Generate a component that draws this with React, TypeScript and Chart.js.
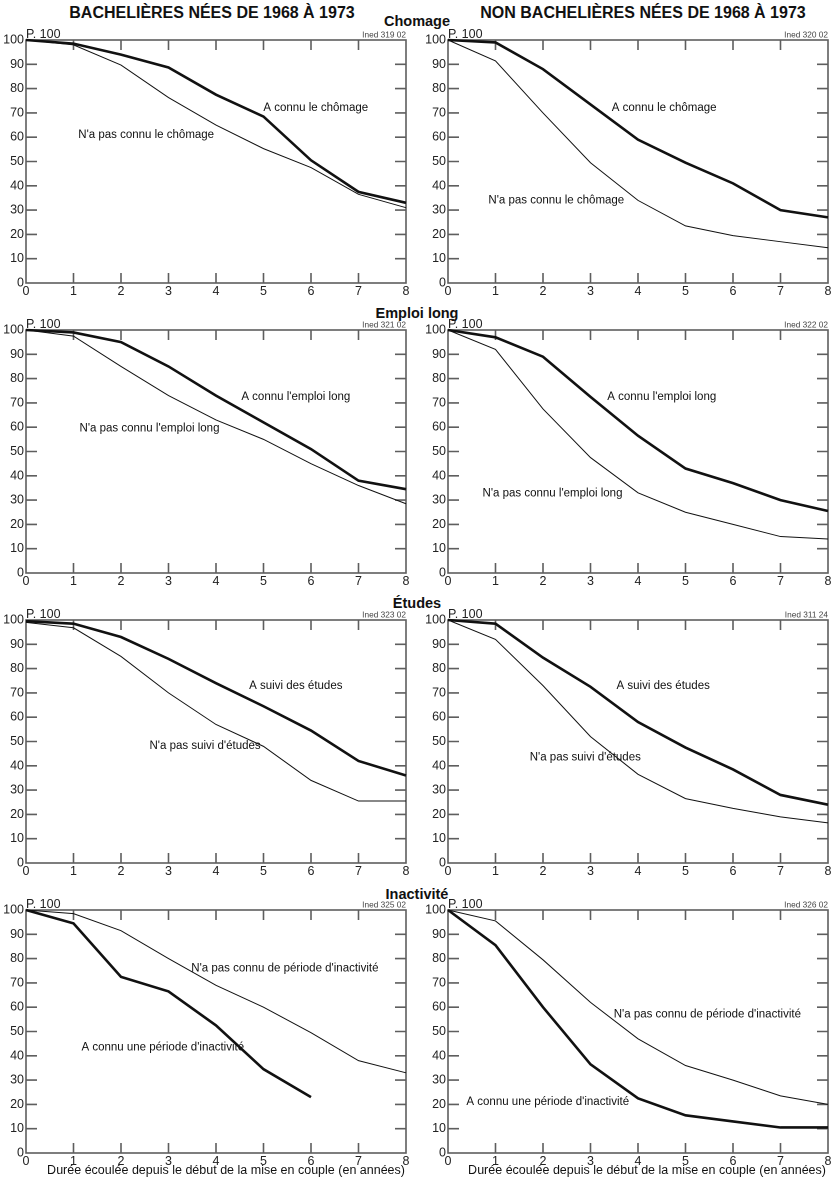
import React, { useEffect, useRef } from "react";
import { Chart, registerables } from "chart.js";

Chart.register(...registerables);

const FONT = "'Liberation Sans', Arial, Helvetica, sans-serif";

// Years since start of union
const years = [0, 1, 2, 3, 4, 5, 6, 7, 8];

// Chômage
const bachChomageAvec = [100, 98.5, 94, 88.7, 77.5, 68.5, 50.5, 37.5, 33];
const bachChomageSans = [100, 98, 89.7, 76.3, 65, 55.3, 47.5, 36.5, 31];
const nonBachChomageAvec = [100, 99, 88, 73.5, 59, 49.5, 41, 30, 27];
const nonBachChomageSans = [100, 91.4, 70, 49.5, 34, 23.5, 19.5, 17, 14.5];
// Emploi long
const bachEmploiAvec = [100, 99, 95, 85, 73, 62, 51, 38, 34.5];
const bachEmploiSans = [100, 97.5, 85, 73, 63, 55, 45, 36, 28.5];
const nonBachEmploiAvec = [100, 97, 89, 72.5, 56.5, 43, 37, 30, 25.5];
const nonBachEmploiSans = [100, 92, 67.5, 47.5, 33, 25, 20, 15, 14];
// Études
const bachEtudesAvec = [99.5, 98.5, 93, 84, 74, 64.5, 54.5, 42, 36];
const bachEtudesSans = [99, 96.8, 85, 70, 57, 48, 34, 25.5, 25.5];
const nonBachEtudesAvec = [100, 98.5, 84.5, 72.5, 58, 47.5, 38.5, 28, 24];
const nonBachEtudesSans = [100, 92, 73, 52, 36.5, 26.5, 22.5, 19, 16.5];
// Inactivité
const bachInactAvec = [100, 94.5, 72.5, 66.5, 52.5, 34.5, 23];
const bachInactSans = [100, 98.5, 91.5, 80, 69, 60, 49.5, 38, 33];
const nonBachInactAvec = [100, 85.5, 60, 36.5, 22.5, 15.5, 13, 10.5, 10.5];
const nonBachInactSans = [100, 95.5, 79.5, 62, 47, 36, 30, 23.5, 20];

const columnTitles = ["BACHELIÈRES NÉES DE 1968 À 1973", "NON BACHELIÈRES NÉES DE 1968 À 1973"];
const rowTitles = ["Chomage", "Emploi long", "Études", "Inactivité"];
const xAxisTitle = "Durée écoulée depuis le début de la mise en couple (en années)";

type Panel = {
  thick: number[];
  thin: number[];
  thickLabel: string;
  thinLabel: string;
  thickAt: [number, number];
  thinAt: [number, number];
  ined: string;
};

const panels: Panel[] = [
  { thick: bachChomageAvec, thin: bachChomageSans, thickLabel: "A connu le chômage", thinLabel: "N'a pas connu le chômage", thickAt: [6.1, 72], thinAt: [2.53, 61], ined: "Ined 319 02" },
  { thick: nonBachChomageAvec, thin: nonBachChomageSans, thickLabel: "A connu le chômage", thinLabel: "N'a pas connu le chômage", thickAt: [4.55, 72], thinAt: [2.28, 34], ined: "Ined 320 02" },
  { thick: bachEmploiAvec, thin: bachEmploiSans, thickLabel: "A connu l'emploi long", thinLabel: "N'a pas connu l'emploi long", thickAt: [5.68, 72.5], thinAt: [2.6, 59.5], ined: "Ined 321 02" },
  { thick: nonBachEmploiAvec, thin: nonBachEmploiSans, thickLabel: "A connu l'emploi long", thinLabel: "N'a pas connu l'emploi long", thickAt: [4.5, 72.5], thinAt: [2.2, 32.7], ined: "Ined 322 02" },
  { thick: bachEtudesAvec, thin: bachEtudesSans, thickLabel: "A suivi des études", thinLabel: "N'a pas suivi d'études", thickAt: [5.68, 73], thinAt: [3.77, 48.3], ined: "Ined 323 02" },
  { thick: nonBachEtudesAvec, thin: nonBachEtudesSans, thickLabel: "A suivi des études", thinLabel: "N'a pas suivi d'études", thickAt: [4.53, 73], thinAt: [2.89, 43.4], ined: "Ined 311 24" },
  { thick: bachInactAvec, thin: bachInactSans, thickLabel: "A connu une période d'inactivité", thinLabel: "N'a pas connu de période d'inactivité", thickAt: [2.88, 43.5], thinAt: [5.45, 76], ined: "Ined 325 02" },
  { thick: nonBachInactAvec, thin: nonBachInactSans, thickLabel: "A connu une période d'inactivité", thinLabel: "N'a pas connu de période d'inactivité", thickAt: [2.1, 21], thinAt: [5.46, 57], ined: "Ined 326 02" },
];

const CANVAS_W = 414;
const CANVAS_H = 273;
const PAD_TOP = 12;
const FRAME = "#5e5e5e";

function toPoints(values: number[]) {
  return values.map((v, i) => ({ x: years[i], y: v }));
}

function PanelChart({ panel, left, top }: { panel: Panel; left: number; top: number }) {
  const ref = useRef<HTMLCanvasElement | null>(null);
  useEffect(() => {
    if (!ref.current) return;
    const decor = {
      id: "decor",
      beforeDatasetsDraw(chart: any) {
        const { ctx, chartArea: a, scales } = chart;
        const xs = scales.x;
        const ys = scales.y;
        ctx.save();
        ctx.strokeStyle = FRAME;
        ctx.lineWidth = 1.6;
        ctx.beginPath();
        xs.ticks.forEach((t: any) => {
          if (t.value <= 0 || t.value >= 8) return;
          const px = xs.getPixelForValue(t.value);
          ctx.moveTo(px, a.top);
          ctx.lineTo(px, a.top + 10);
          ctx.moveTo(px, a.bottom);
          ctx.lineTo(px, a.bottom - 10);
        });
        ys.ticks.forEach((t: any) => {
          if (t.value <= 0 || t.value >= 100) return;
          const py = ys.getPixelForValue(t.value);
          ctx.moveTo(a.left, py);
          ctx.lineTo(a.left + 11, py);
          ctx.moveTo(a.right, py);
          ctx.lineTo(a.right - 11, py);
        });
        ctx.stroke();
        ctx.strokeRect(a.left, a.top, a.right - a.left, a.bottom - a.top);
        ctx.restore();
      },
      afterDatasetsDraw(chart: any) {
        const { ctx, chartArea: a, scales } = chart;
        const xs = scales.x;
        const ys = scales.y;
        ctx.save();
        ctx.fillStyle = "#111";
        ctx.font = `11.5px ${FONT}`;
        ctx.textAlign = "center";
        ctx.textBaseline = "middle";
        ctx.fillText(panel.thickLabel, xs.getPixelForValue(panel.thickAt[0]), ys.getPixelForValue(panel.thickAt[1]));
        ctx.fillText(panel.thinLabel, xs.getPixelForValue(panel.thinAt[0]), ys.getPixelForValue(panel.thinAt[1]));
        ctx.textBaseline = "alphabetic";
        ctx.textAlign = "left";
        ctx.font = `12.5px ${FONT}`;
        ctx.fillStyle = "#222";
        ctx.fillText("P. 100", a.left, a.top - 2);
        ctx.textAlign = "right";
        ctx.font = `8.3px ${FONT}`;
        ctx.fillStyle = "#444";
        ctx.fillText(panel.ined, a.right, a.top - 2.5);
        ctx.restore();
      },
    };
    const chart = new Chart(ref.current, {
      type: "line",
      data: {
        datasets: [
          {
            label: panel.thinLabel,
            data: toPoints(panel.thin),
            borderColor: "#111",
            borderWidth: 1,
            pointRadius: 0,
            tension: 0,
            clip: false as any,
          },
          {
            label: panel.thickLabel,
            data: toPoints(panel.thick),
            borderColor: "#111",
            borderWidth: 2.6,
            pointRadius: 0,
            tension: 0,
            clip: false as any,
          },
        ],
      },
      options: {
        animation: false,
        responsive: false,
        devicePixelRatio: 2,
        layout: { padding: { top: PAD_TOP, right: 8, left: 0, bottom: 0 } },
        plugins: { legend: { display: false }, tooltip: { enabled: false } },
        scales: {
          x: {
            type: "linear",
            min: 0,
            max: 8,
            grid: { display: false, drawTicks: false },
            border: { display: false },
            ticks: { stepSize: 1, padding: 1, autoSkip: false, maxRotation: 0, color: "#222", font: { family: FONT, size: 12.5 } },
            afterFit: (s: any) => {
              s.height = 18;
            },
          },
          y: {
            type: "linear",
            min: 0,
            max: 100,
            grid: { display: false, drawTicks: false },
            border: { display: false },
            ticks: { stepSize: 10, padding: 2, autoSkip: false, color: "#222", font: { family: FONT, size: 12.5 } },
            afterFit: (s: any) => {
              s.width = 26;
            },
          },
        },
      },
      plugins: [decor],
    });
    return () => chart.destroy();
  }, [panel]);
  return (
    <canvas
      ref={ref}
      width={CANVAS_W}
      height={CANVAS_H}
      style={{ position: "absolute", left, top, width: CANVAS_W, height: CANVAS_H }}
    />
  );
}

const rowTitleTops = [12, 304, 594, 885];

export default function App() {
  return (
    <div style={{ position: "absolute", left: 0, top: 0, width: 836, height: 1180, background: "#fff", fontFamily: FONT, color: "#111" }}>
      <div style={{ position: "absolute", left: 0, width: 424, top: 3, textAlign: "center", fontWeight: "bold", fontSize: 16, lineHeight: "20px" }}>
        {columnTitles[0]}
      </div>
      <div style={{ position: "absolute", left: 443, width: 400, top: 3, textAlign: "center", fontWeight: "bold", fontSize: 16, lineHeight: "20px" }}>
        {columnTitles[1]}
      </div>
      {rowTitles.map((t, i) => (
        <div
          key={t}
          style={{ position: "absolute", left: 317, width: 200, top: rowTitleTops[i], textAlign: "center", fontWeight: "bold", fontSize: 14.5, lineHeight: "18px" }}
        >
          {t}
        </div>
      ))}
      {panels.map((p, i) => (
        <PanelChart key={i} panel={p} left={i % 2 === 0 ? 0 : 422} top={28 + 290 * Math.floor(i / 2)} />
      ))}
      <div style={{ position: "absolute", left: 0, width: 405, top: 1163, textAlign: "right", fontSize: 12.5, lineHeight: "15px" }}>
        {xAxisTitle}
      </div>
      <div style={{ position: "absolute", left: 422, width: 404, top: 1163, textAlign: "right", fontSize: 12.5, lineHeight: "15px" }}>
        {xAxisTitle}
      </div>
    </div>
  );
}
